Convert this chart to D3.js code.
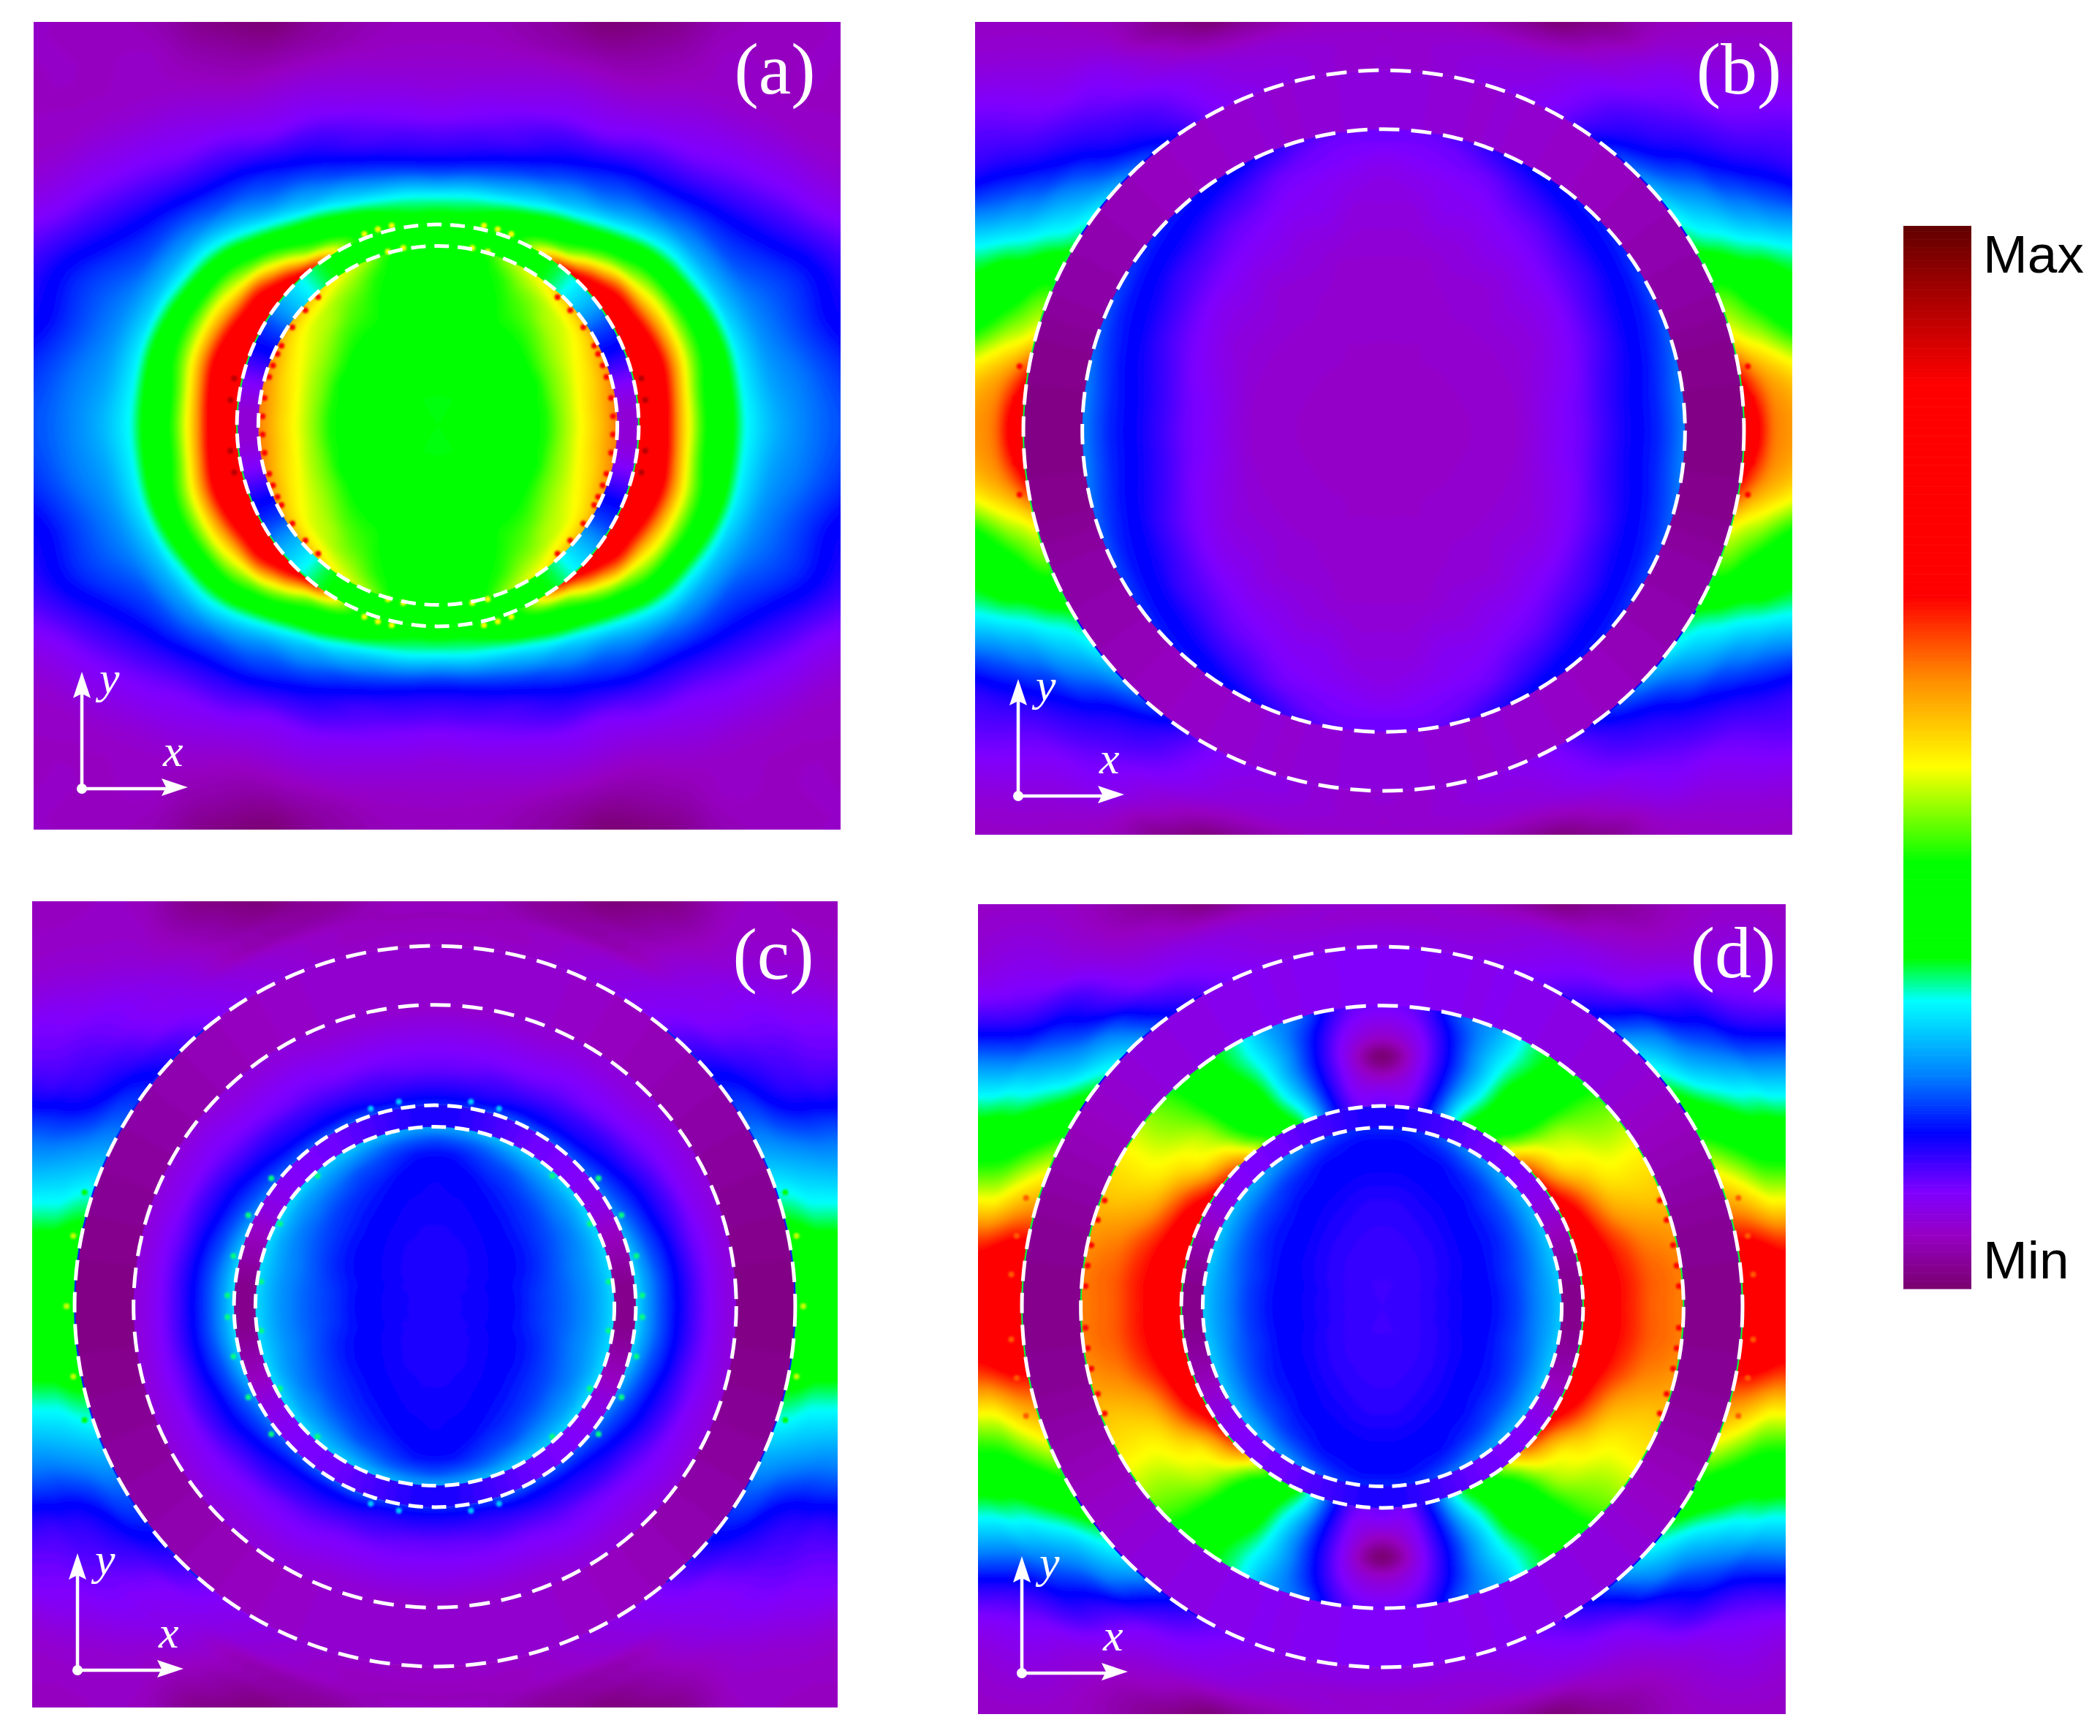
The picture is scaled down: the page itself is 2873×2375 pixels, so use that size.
<!DOCTYPE html>
<html>
<head>
<meta charset="utf-8">
<script src="https://cdn.jsdelivr.net/npm/d3@7"></script>
<style>
	body { margin: 0; background: #fff; }
	svg { display: block; }
</style>
</head>
<body>
<svg id="vis" width="2873" height="2375"></svg>
<script>
// colour bar stops, field value 0 (Min) to 100 (Max)
var COLOR_VALUES = [0, 5, 9, 14.5, 20, 27, 31, 40, 49, 57, 65, 85, 100];
var COLOR_STOPS = ["#7a0070", "#9600c4", "#8000ff", "#0000ff", "#0080ff", "#00ffff", "#00ff00", "#00ff00", "#ffff00", "#ff9000", "#ff0000", "#ff0000", "#600000"];

// every field is read on rays 0..90 deg from +x, one row per ray, one column per radius
var R_A_OUTER = [150, 160, 170, 180, 190, 200, 210, 220, 230, 250, 275, 300, 325, 350, 380, 430];
var R_OUTER = [269, 280, 290, 300, 310, 320, 330, 345, 360, 380, 400, 431];
var R_SHELL = [225, 269];
var R_THIN = [134, 150];
var R_A_CORE = [0, 20, 40, 60, 80, 90, 100, 110, 120, 128, 134];
var R_B_CORE = [0, 50, 100, 130, 150, 170, 190, 205, 215, 225];
var R_C_GAP = [150, 157, 165, 175, 185, 195, 205, 215, 225];
var R_D_GAP = [150, 160, 172, 187, 200, 212, 225];
var R_CORE = [0, 20, 40, 60, 80, 100, 115, 125, 134];

var A_OUTER = [
	[75, 75, 68, 56, 47, 40, 36, 32, 27, 23, 20, 18, 17, 16, 16, 15],
	[75, 75, 69, 57, 47, 40, 36, 32, 26.5, 22, 19.5, 17, 15, 14, 13, 12],
	[75, 75, 70, 59, 49, 42, 37, 32, 26, 21, 18, 15, 13, 11, 10, 9],
	[75, 75, 67, 57, 48, 41.5, 36, 30, 24.5, 20, 17.5, 15, 12, 9.5, 8, 6.5],
	[75, 72, 63, 53, 46, 39, 33, 27, 23, 18, 15, 12, 9, 7, 5.5, 5],
	[72, 68, 60, 48, 42, 36, 29.5, 25, 21, 16.5, 12.5, 9.5, 7.5, 5.5, 5, 5],
	[70, 61, 49, 41.5, 35, 29, 24.5, 21, 18, 14, 10, 8, 6, 5, 5, 5],
	[63, 47, 40, 34.5, 28.5, 23.5, 20, 18, 16, 12, 8.5, 6.5, 5, 5, 4.5, 5],
	[49, 41, 36, 30, 24, 21, 18, 15.5, 13.5, 9.5, 7, 4.5, 3, 1.5, 3, 4],
	[39, 37, 32, 26, 22, 18, 15.5, 13.5, 12, 9, 6.5, 3.5, 0.5, 0, 2, 3],
	[35, 33, 29, 24, 19.5, 16, 13.5, 11.5, 10.5, 8, 6, 3.5, 3, 3, 3, 4],
	[34, 31, 28, 23, 18, 14.5, 12.5, 11, 9.5, 7.5, 5.5, 4.5, 4, 4, 4, 4],
	[34, 31, 27.5, 22, 17, 14, 12, 10.5, 9, 7, 5.5, 4.5, 4, 4, 4, 4]
];
var A_THIN = [[6, 6], [7, 7], [10, 10], [14, 14], [17, 17], [22, 22], [26, 26], [30, 30], [32, 32], [35, 35], [36, 36], [36, 36], [36, 36]];
var A_CORE = [
	[31, 33, 36, 38, 40.5, 44, 47, 50, 53, 56, 58],
	[31, 33, 36, 38, 40.5, 44, 47, 50, 53, 56, 58],
	[31, 33, 36, 38, 40.5, 44, 46.5, 49.5, 52, 55, 57],
	[31, 33, 36, 38, 40, 43.5, 46, 48.5, 51, 54, 56],
	[31, 33, 35, 37.5, 40, 43, 45.5, 47.5, 49.5, 52, 55],
	[31, 33, 35, 37, 39.5, 42, 44.5, 46.5, 48, 51, 54],
	[31, 33, 35, 37, 39, 41, 43, 45.5, 47, 50, 53],
	[31, 33, 34, 36, 38.5, 40.5, 42, 43.5, 45.5, 48, 50],
	[31, 30.8, 34, 35, 38, 40, 41, 42, 44, 46, 48],
	[31, 30.8, 34, 35, 37, 38, 39, 40, 41, 43, 45],
	[31, 30.8, 33, 34, 35, 36, 37, 38, 39, 39, 40],
	[31, 30.8, 33, 33, 34, 34, 35, 35, 36, 36, 36],
	[31, 30.8, 33, 33, 34, 34, 35, 35, 36, 36, 36]
];

var B_OUTER = [
	[70, 66, 59, 57, 56, 56, 55, 55, 55, 55, 55, 55],
	[66, 60, 56, 54, 52, 51, 50, 50, 50, 50, 50, 50],
	[50, 47, 45, 42, 39, 36, 35, 34, 34, 34, 34, 34],
	[42, 40, 36, 34, 33, 31, 29.5, 28, 27, 26, 25, 24],
	[31, 29, 27.5, 25.5, 23.5, 22, 20, 17.5, 15, 13, 11.5, 10],
	[26, 23, 21, 19, 16.5, 15, 13.5, 12, 11, 10, 8.5, 7],
	[20, 17, 14.8, 13.5, 12.5, 11.5, 10.5, 9, 8, 7, 6, 5],
	[15, 13, 12, 11, 10, 9, 8.5, 7.5, 6, 5, 5, 5],
	[10, 9.5, 9, 8.5, 7.5, 6, 5, 2.5, 3, 4, 5, 5],
	[8, 7.5, 7, 6.5, 5, 3, 0.5, 0, 1, 3, 5, 5],
	[7, 7, 6.5, 6, 4.5, 3, 3, 3, 3, 4, 5, 5],
	[6, 6, 6, 5.5, 5, 4.5, 4.5, 4.5, 4.5, 4.5, 4.5, 4.5],
	[6, 6, 5.5, 5.5, 5, 4.5, 4.5, 4.5, 4.5, 4.5, 4.5, 4.5]
];
var B_SHELL = [[1, 1], [1.5, 1.5], [2, 2], [3, 3], [3.5, 3.5], [4, 4], [4.5, 4.5], [5, 5], [5.5, 5.5], [6, 6], [6, 6], [6.5, 6.5], [6.5, 6.5]];
var B_CORE = [
	[5, 5.4, 6, 8.5, 10, 12.5, 14.5, 16, 18, 20],
	[5, 5.4, 6, 8.5, 10, 12.5, 14.5, 16, 18, 20],
	[5, 5.4, 6, 8, 9.5, 12, 14, 15.5, 17, 19],
	[5, 5.4, 6, 7.5, 9, 11, 13.5, 15, 16, 18],
	[5, 5.4, 6, 7, 8.5, 10.5, 13, 14.5, 15.5, 17],
	[5, 5.4, 6, 7, 8, 10, 12, 14, 15, 16],
	[5, 5.4, 6, 7, 8, 9.5, 11.5, 13.5, 14.5, 15.5],
	[5, 5.4, 6, 6.5, 7.5, 9, 10.5, 12.5, 14, 15],
	[5, 5.4, 6, 6.5, 7.5, 8.5, 10, 11.5, 13, 14.5],
	[5, 5.4, 5.7, 6.5, 7, 8, 9, 10, 11.5, 13],
	[5, 5.4, 5.7, 6, 7, 8, 8.5, 9.5, 10, 11],
	[5, 5.4, 5.7, 6, 6.5, 7, 8, 9, 9.5, 10],
	[5, 5.4, 5.7, 6, 6.5, 7, 7.5, 8.5, 9.5, 10]
];

var C_OUTER = [
	[40, 36, 35, 34, 34, 34, 34, 33, 33, 33, 33, 33],
	[36, 35, 34, 33.5, 33, 33, 33, 33, 33, 33, 33, 33],
	[30, 29, 27.5, 27, 26.5, 26, 25.5, 25, 25, 25, 25, 25],
	[24, 23, 22, 21, 20, 19.5, 19, 18, 17, 16, 15, 14],
	[19, 18, 16, 14.5, 13.5, 13, 12, 11.5, 11, 10.5, 10, 9],
	[15.5, 14.5, 13, 12, 11, 10.5, 10, 9, 8.5, 7, 6, 5],
	[12, 11, 9.5, 9, 8.5, 8.5, 8, 7, 6, 5.5, 5, 5],
	[9, 8.5, 8, 7.5, 7, 6.5, 5.5, 5, 5, 5, 5, 5],
	[7.5, 7, 6.5, 4.5, 4.5, 3.5, 3, 1.5, 1.5, 4, 5, 5],
	[6.5, 6, 5.5, 3.5, 3, 1.5, 0.5, 0, 1, 3, 5, 5],
	[5.5, 5, 5, 3.5, 2.5, 3, 3, 3, 3, 4, 5, 5],
	[5, 5, 4.5, 4.5, 4, 3.5, 3.5, 3.5, 3.5, 3.5, 3.5, 3.5],
	[5, 5, 4.5, 4.5, 4, 3.5, 3.5, 3.5, 3.5, 3.5, 3.5, 3.5]
];
var C_SHELL = [[1, 1], [1.5, 1.5], [2, 2], [2.5, 2.5], [3, 3], [3.5, 3.5], [4, 4], [4.5, 4.5], [5, 5], [5.5, 5.5], [5.5, 5.5], [5.5, 5.5], [5.5, 5.5]];
var C_GAP = [
	[25, 22, 19, 16, 13.5, 11, 9, 7.5, 6.5],
	[25, 22, 19, 16, 13.5, 11, 9, 7.5, 6.5],
	[24, 21, 18, 15.5, 13, 10.5, 9, 7.5, 6.5],
	[22, 19.5, 17, 14.5, 12.5, 10.5, 8.5, 7.5, 6.5],
	[20, 18, 16, 14, 12, 10, 8.5, 7.5, 6.5],
	[19, 17, 15, 13, 11, 9.5, 8.5, 7.5, 6.5],
	[18, 16, 14, 12.5, 10.5, 9, 8, 7, 6.5],
	[18, 15.5, 13.5, 12, 10, 9, 8, 7, 6.5],
	[18, 15, 13.5, 11.5, 10, 9, 8, 7, 6.5],
	[18, 15, 13, 11, 9.5, 8.5, 7.5, 6.5, 6],
	[17, 14, 12.5, 11, 9.5, 8.5, 7.5, 6.5, 6],
	[16, 14, 12.5, 10.5, 9.5, 8.5, 7.5, 6.5, 5.5],
	[16, 14, 12.5, 10.5, 9.5, 8.5, 7.5, 6.5, 5.5]
];
var C_THIN = [[1.5, 1.5], [2, 2], [3.5, 3.5], [5, 5], [7, 7], [8, 8], [9, 9], [9.5, 9.5], [10, 10], [11, 11], [12, 12], [13, 13], [13, 13]];
var C_CORE = [
	[13, 13.5, 14, 15, 17, 19, 21, 23, 25],
	[13, 13.5, 14, 15, 17, 19, 21, 23, 25],
	[13, 13.5, 14, 15, 16.5, 19, 21, 23, 25],
	[13, 13.5, 14, 14.7, 16, 18.5, 20.5, 22.5, 25],
	[13, 13.3, 13.8, 14.5, 15.7, 18, 20, 22.5, 25],
	[13, 13.3, 13.8, 14.3, 15.5, 17.5, 20, 22, 25],
	[13, 13.2, 13.6, 14.2, 15.3, 17, 19.5, 22, 24.5],
	[13, 13.2, 13.5, 14, 15, 16.5, 19, 21.5, 24],
	[13, 13.2, 13.4, 13.8, 14.7, 16, 18, 21, 24],
	[13, 13.2, 13.3, 13.7, 14.3, 15.5, 17.5, 20, 23.5],
	[13, 13.1, 13.3, 13.6, 14, 14.8, 16.5, 19, 23],
	[13, 13.1, 13.2, 13.5, 13.9, 14.4, 15.5, 18.5, 22],
	[13, 13.1, 13.2, 13.5, 13.8, 14.2, 15.3, 18, 22]
];

var D_OUTER = [
	[76, 74, 72, 70, 70, 70, 70, 70, 70, 70, 70, 70],
	[70, 70, 68, 66, 65, 64, 64, 64, 64, 64, 64, 64],
	[58, 56, 53, 50, 49, 48, 47, 47, 47, 47, 47, 47],
	[48, 45, 42, 39, 37, 36, 35, 34, 34, 33, 33, 33],
	[38, 35, 32.5, 30, 28, 27, 25, 23, 21, 18, 16, 14],
	[30, 27, 24, 22, 20, 18, 15.5, 13, 11, 9, 7.5, 6],
	[24, 21.5, 19, 15.5, 13.5, 12.5, 11, 8.5, 7.8, 7, 6, 5],
	[16, 13.5, 11.5, 9.5, 8.5, 7.5, 6.5, 5.5, 5, 5, 5, 5],
	[11, 10, 9, 8, 7, 5.5, 4.5, 2.5, 2.5, 4, 5, 5],
	[9, 8, 7.5, 7, 5.5, 3, 0.5, 0, 1, 3, 5, 5],
	[7.5, 7, 6.5, 6, 4.5, 3.5, 3, 3, 3, 4, 5, 5],
	[7, 7, 6, 6, 5.5, 5, 5, 5, 5, 5, 5, 5],
	[7, 7, 6, 6, 5.5, 5, 5, 5, 5, 5, 5, 5]
];
var D_SHELL = [[1.5, 1.5], [2, 2], [2.5, 2.5], [3.5, 3.5], [4.5, 4.5], [5.5, 5.5], [6.5, 6.5], [7, 7], [7.5, 7.5], [8, 8], [8, 8], [8.5, 8.5], [8.5, 8.5]];
var D_GAP = [
	[75, 72, 66, 63, 60, 59, 58],
	[75, 72, 66, 63, 60, 59, 58],
	[75, 70, 65, 61, 58, 57, 56],
	[72, 68, 62, 56, 54, 53, 53],
	[68, 64, 58, 52, 50, 50, 50],
	[64, 57, 51, 49, 47, 46, 46],
	[58, 52, 47, 45, 43, 42, 41],
	[46, 41, 38, 36, 35, 34, 33],
	[36, 34, 32.5, 31.5, 30, 29, 29],
	[29, 27, 24.5, 23, 23, 22.5, 22],
	[17, 16, 15, 14.5, 15, 16, 18],
	[10, 9, 8, 7, 8, 9.5, 11],
	[10, 8.5, 5, 0, 5, 7.5, 9.5]
];
var D_THIN = [[1.5, 1.5], [2, 2], [3, 3], [4.5, 4.5], [6.5, 6.5], [8, 8], [9, 9], [9.5, 9.5], [10, 10], [11, 11], [12, 12], [13, 13], [13, 13]];
var D_CORE = [
	[12, 12.2, 13, 14, 14.8, 17, 20, 22, 24],
	[12, 12.2, 13, 14, 14.8, 17, 20, 22, 24],
	[12, 12.2, 13, 14, 14.8, 17, 19.5, 22, 24],
	[12, 12.2, 12.8, 13.8, 14.7, 16.5, 19, 21.5, 24],
	[12, 12.2, 12.7, 13.6, 14.6, 16, 18.5, 21, 23.5],
	[12, 12.2, 12.6, 13.4, 14.5, 15.7, 18, 20.5, 23],
	[12, 12.1, 12.5, 13.2, 14.3, 15.5, 17.5, 20, 22.5],
	[12, 12.1, 12.4, 13, 14, 15, 16.5, 19, 21.5],
	[12, 12.1, 12.3, 12.9, 13.7, 14.7, 15.8, 18, 20.5],
	[12, 12, 12.3, 12.7, 13.5, 14.4, 15, 16.5, 19],
	[12, 12, 12.2, 12.6, 13.2, 14.2, 14.8, 15.5, 17],
	[12, 12, 12.2, 12.5, 13, 14, 14.6, 15, 16],
	[12, 12, 12.2, 12.5, 13, 14, 14.5, 15, 16]
];

// small hot spots next to the interfaces: radius, value, angles
var A_SPECKS = [[131, 66, [3, 9, 16, 20, 24, 27, 34, 41, 47]], [156, 92, [7, 13]], [153, 49, [69, 73, 77]], [135, 49, [74, 79]]];
var B_SPECKS = [[277, 82, [0]], [276, 66, [5, 10]]];
var C_SPECKS = [[275, 47, [0, 11]], [275, 36, [18]], [155, 29, [3, 14, 26, 38]], [131, 29, [8, 28, 48]], [155, 24, [72, 80]]];
var D_SPECKS = [[278, 60, [5, 11, 17]], [222, 66, [4, 8, 12, 17, 21]]];

// thin bright line left on an interface: radius, value, from angle, to angle
var A_EDGES = [[150, 30, 0, 50]];
var B_EDGES = [[269, 30, 0, 30], [269, 14, 30, 55]];
var C_EDGES = [[269, 16, 0, 50]];
var D_EDGES = [[269, 30, 0, 30], [269, 14, 30, 60], [225, 30, 0, 50], [150, 30, 0, 45]];

var PANEL_LABELS = ["(a)", "(b)", "(c)", "(d)"];
var BAR_LABELS = ["Max", "Min"];

var UNIT = 2375 / 1296; // px per field radius unit
var LEVEL_STEP = 0.5;
var RAY_STEPS = 4; // drawing subdivisions between two rays
var RADIUS_STEPS = 3;

var color = d3.scaleLinear().domain(COLOR_VALUES).range(COLOR_STOPS).clamp(true);
var levels = d3.range(-0.5, 100, LEVEL_STEP);

var PANELS = [
	{
		label: PANEL_LABELS[0], box: [46, 30, 1150, 1135], center: [599, 582], labelAt: [1060, 128], origin: [112, 1079],
		layers: [[R_A_OUTER, A_OUTER, null], [R_THIN, A_THIN, 150], [R_A_CORE, A_CORE, 134]],
		dashed: [150, 134], specks: A_SPECKS, edges: A_EDGES
	},
	{
		label: PANEL_LABELS[1], box: [1334, 30, 2452, 1142], center: [1893, 589], labelAt: [2379, 128], origin: [1393, 1089],
		layers: [[R_OUTER, B_OUTER, null], [R_SHELL, B_SHELL, 269], [R_B_CORE, B_CORE, 225]],
		dashed: [269, 225], specks: B_SPECKS, edges: B_EDGES
	},
	{
		label: PANEL_LABELS[2], box: [44, 1233, 1146, 2336], center: [595, 1787], labelAt: [1058, 1339], origin: [106, 2285],
		layers: [[R_OUTER, C_OUTER, null], [R_SHELL, C_SHELL, 269], [R_C_GAP, C_GAP, 225], [R_THIN, C_THIN, 150], [R_CORE, C_CORE, 134]],
		dashed: [269, 225, 150, 134], specks: C_SPECKS, edges: C_EDGES
	},
	{
		label: PANEL_LABELS[3], box: [1338, 1237, 2443, 2345], center: [1891, 1788], labelAt: [2371, 1337], origin: [1398, 2289],
		layers: [[R_OUTER, D_OUTER, null], [R_SHELL, D_SHELL, 269], [R_D_GAP, D_GAP, 225], [R_THIN, D_THIN, 150], [R_CORE, D_CORE, 134]],
		dashed: [269, 225, 150, 134], specks: D_SPECKS, edges: D_EDGES
	}
];

var svg = d3.select("#vis");
svg.append("rect").attr("width", 2873).attr("height", 2375).attr("fill", "#fff");

var defs = svg.append("defs");
var soft = defs.append("filter").attr("id", "soft")
	.attr("x", "-5%").attr("y", "-5%").attr("width", "110%").attr("height", "110%");
soft.append("feGaussianBlur").attr("stdDeviation", 2.5);
var speckBlur = defs.append("filter").attr("id", "speckBlur");
speckBlur.append("feGaussianBlur").attr("stdDeviation", 1.5);

// quarter of the rays -> all the way round
function fullCircle(rows) {
	var down = rows.slice(0, -1).reverse();
	var up = rows.slice(1);
	return rows.concat(down, up, down);
}

function spline(p0, p1, p2, p3, t) {
	return 0.5 * (2 * p1 + (p2 - p0) * t + (2 * p0 - 5 * p1 + 4 * p2 - p3) * t * t + (3 * p1 - p0 - 3 * p2 + p3) * t * t * t);
}

// smoother contours: subdivide the grid for drawing only
function refineRays(rows) {
	var n = rows.length - 1, out = [];
	for (var i = 0; i < n; i++) {
		for (var s = 0; s < RAY_STEPS; s++) {
			out.push(rows[i].map(function(d, c) {
				return spline(rows[(i - 1 + n) % n][c], d, rows[i + 1][c], rows[(i + 2) % n][c], s / RAY_STEPS);
			}));
		}
	}
	out.push(out[0]);
	return out;
}

function refineRow(row) {
	var out = [];
	for (var c = 0; c < row.length - 1; c++) {
		for (var s = 0; s < RADIUS_STEPS; s++) {
			out.push(spline(row[Math.max(c - 1, 0)], row[c], row[c + 1], row[Math.min(c + 2, row.length - 1)], s / RADIUS_STEPS));
		}
	}
	out.push(row[row.length - 1]);
	return out;
}

function refineRadii(radii) {
	var out = [];
	for (var c = 0; c < radii.length - 1; c++) {
		for (var s = 0; s < RADIUS_STEPS; s++) {
			out.push(radii[c] + (radii[c + 1] - radii[c]) * s / RADIUS_STEPS);
		}
	}
	out.push(radii[radii.length - 1]);
	return out;
}

function polarPath(radii, rowCount, center) {
	var rScale = d3.scaleLinear().domain(radii.map((d, i) => i + 0.5)).range(radii.map(d => d * UNIT));
	var step = 360 / (rowCount - 1);
	return d3.geoPath(d3.geoTransform({
		point: function(x, y) {
			var r = Math.max(0, rScale(x));
			var a = (y - 0.5) * step * Math.PI / 180;
			this.stream.point(center[0] + r * Math.cos(a), center[1] - r * Math.sin(a));
		}
	}));
}

function drawLayer(parent, panelId, index, panel) {
	var radii = refineRadii(panel.layers[index][0]);
	var rows = refineRays(fullCircle(panel.layers[index][1])).map(refineRow);
	var limit = panel.layers[index][2];
	var clipped = parent.append("g");
	if (limit !== null) {
		var id = "clip-" + panelId + "-" + index;
		defs.append("clipPath").attr("id", id).append("circle")
			.attr("cx", panel.center[0]).attr("cy", panel.center[1]).attr("r", limit * UNIT);
		clipped.attr("clip-path", "url(#" + id + ")");
	}
	var flat = d3.merge(rows);
	var contours = d3.contours().size([radii.length, rows.length]).thresholds(levels)(flat);
	var path = polarPath(radii, rows.length, panel.center);
	clipped.append("g").attr("filter", "url(#soft)")
		.selectAll("path")
		.data(contours.filter(d => d.coordinates.length > 0))
		.enter()
		.append("path")
		.attr("d", path)
		.attr("fill", d => color(d.value + LEVEL_STEP / 2));
}

function drawEdges(parent, panel) {
	var arcs = [];
	panel.edges.forEach(function(e) {
		[[e[2], e[3]], [180 - e[3], 180 - e[2]], [180 + e[2], 180 + e[3]], [360 - e[3], 360 - e[2]]].forEach(function(q) {
			arcs.push({ r: e[0], v: e[1], a0: q[0], a1: q[1] });
		});
	});
	// d3.arc measures from 12 o'clock, clockwise
	var arc = d3.arc()
		.innerRadius(d => d.r * UNIT - 1)
		.outerRadius(d => d.r * UNIT + 1)
		.startAngle(d => (90 - d.a1) * Math.PI / 180)
		.endAngle(d => (90 - d.a0) * Math.PI / 180);
	parent.append("g")
		.attr("transform", "translate(" + panel.center[0] + "," + panel.center[1] + ")")
		.selectAll("path")
		.data(arcs)
		.enter()
		.append("path")
		.attr("d", arc)
		.attr("fill", d => color(d.v));
}

function drawSpecks(parent, panel) {
	var dots = [];
	panel.specks.forEach(function(s) {
		s[2].forEach(function(angle) {
			[angle, 180 - angle, 180 + angle, 360 - angle].forEach(function(a) {
				dots.push({ r: s[0], v: s[1], a: a * Math.PI / 180 });
			});
		});
	});
	parent.append("g").attr("filter", "url(#speckBlur)")
		.selectAll("circle")
		.data(dots)
		.enter()
		.append("circle")
		.attr("cx", d => panel.center[0] + d.r * UNIT * Math.cos(d.a))
		.attr("cy", d => panel.center[1] - d.r * UNIT * Math.sin(d.a))
		.attr("r", 4)
		.attr("fill", d => color(d.v));
}

function drawDashed(parent, panel) {
	parent.selectAll("circle.dash")
		.data(panel.dashed)
		.enter()
		.append("circle")
		.attr("class", "dash")
		.attr("cx", panel.center[0])
		.attr("cy", panel.center[1])
		.attr("r", d => d * UNIT)
		.attr("fill", "none")
		.attr("stroke", "#fff")
		.attr("stroke-width", 5)
		.attr("stroke-dasharray", d => d > 200 ? "28 16" : "20 12");
}

function drawAxes(parent, origin) {
	var g = parent.append("g").attr("transform", "translate(" + origin[0] + "," + origin[1] + ")");
	g.append("path").attr("d", "M0,0V-130M0,0H115").attr("stroke", "#fff").attr("stroke-width", 4.5).attr("fill", "none");
	g.append("path").attr("d", "M0,-160L12,-124L0,-130L-12,-124Z").attr("fill", "#fff");
	g.append("path").attr("d", "M145,-2L109,-14L115,-2L109,10Z").attr("fill", "#fff");
	g.append("circle").attr("r", 7).attr("fill", "#fff");
	g.append("text").attr("x", 24).attr("y", -131).text("y");
	g.append("text").attr("x", 111).attr("y", -31).text("x");
	g.selectAll("text")
		.attr("fill", "#fff")
		.attr("font-family", "'Liberation Serif'")
		.attr("font-style", "italic")
		.attr("font-size", 62);
}

PANELS.forEach(function(panel, p) {
	var box = panel.box;
	var id = "panel-" + p;
	defs.append("clipPath").attr("id", id).append("rect")
		.attr("x", box[0]).attr("y", box[1]).attr("width", box[2] - box[0]).attr("height", box[3] - box[1]);
	var g = svg.append("g").attr("clip-path", "url(#" + id + ")");
	panel.layers.forEach(function(layer, i) {
		drawLayer(g, p, i, panel);
	});
	drawEdges(g, panel);
	drawSpecks(g, panel);
	drawDashed(g, panel);
	drawAxes(g, panel.origin);
	g.append("text")
		.attr("x", panel.labelAt[0]).attr("y", panel.labelAt[1])
		.attr("text-anchor", "middle")
		.attr("fill", "#fff")
		.attr("font-family", "'Liberation Serif'")
		.attr("font-size", 100)
		.text(panel.label);
});

// colour bar
var barY = d3.scaleLinear().domain([0, 100]).range([1763, 309]);
var barLevels = d3.range(0, 100, 0.25);
svg.append("g").selectAll("rect")
	.data(barLevels)
	.enter()
	.append("rect")
	.attr("x", 2604)
	.attr("width", 93)
	.attr("y", d => barY(d + 0.25))
	.attr("height", d => barY(d) - barY(d + 0.25) + 0.6)
	.attr("fill", d => color(d));

svg.selectAll("text.bar")
	.data(BAR_LABELS)
	.enter()
	.append("text")
	.attr("class", "bar")
	.attr("x", 2713)
	.attr("y", (d, i) => i == 0 ? 373 : 1749)
	.attr("font-family", "'Liberation Sans'")
	.attr("font-size", 73)
	.attr("fill", "#000")
	.text(d => d);
</script>
</body>
</html>
